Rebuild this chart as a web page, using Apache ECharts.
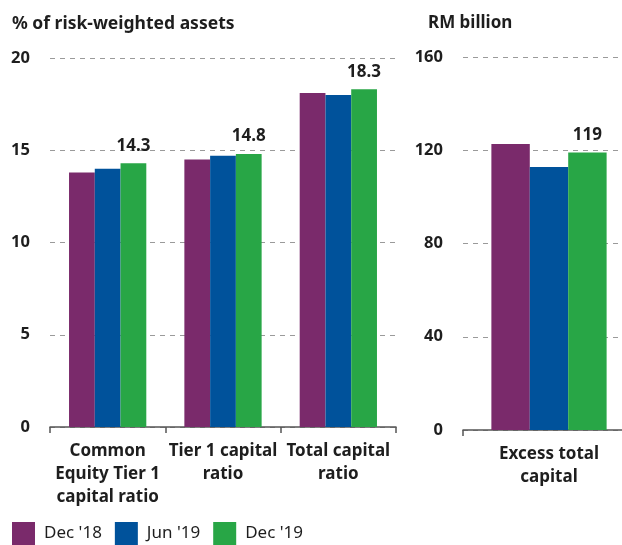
<!DOCTYPE html>
<html>
<head>
<meta charset="utf-8">
<title>Capital ratios</title>
<script src="https://cdn.jsdelivr.net/npm/echarts@6/dist/echarts.min.js"></script>
<style>
    html, body { margin: 0; padding: 0; background: #fff; }
    #capital_ratios { width: 622px; height: 545px; }
</style>
</head>
<body>
<div id="capital_ratios"></div>
<script>

// Chart data
// ------------------------------

var seriesNames = ["Dec '18", "Jun '19", "Dec '19"];
var seriesColors = ['#7a2a6b', '#00529b', '#28a646'];

// Left panel: % of risk-weighted assets
var ratioCategories = ['Common\nEquity Tier 1\ncapital ratio', 'Tier 1 capital\nratio', 'Total capital\nratio'];
var ratioDec18 = [13.8, 14.5, 18.1];
var ratioJun19 = [14.0, 14.7, 18.0];
var ratioDec19 = [14.3, 14.8, 18.3];
var ratioTicks = [0, 5, 10, 15, 20];

// Right panel: RM billion
var capitalCategories = ['Excess total\ncapital'];
var capitalDec18 = [122.7];
var capitalJun19 = [112.8];
var capitalDec19 = [119];
var capitalTicks = [0, 40, 80, 120, 160];


// Setup module
// ------------------------------

var CapitalRatiosChart = function() {

    var _capitalRatios = function() {
        if (typeof echarts == 'undefined') {
            console.warn('Warning - echarts.min.js is not loaded.');
            return;
        }

        var element = document.getElementById('capital_ratios');
        if (!element) return;

        var chart = echarts.init(element, null, { renderer: 'canvas' });

        var fontFamily = '"Noto Sans", "Open Sans", sans-serif';
        var textColor = '#1e1e1e';

        // Shared axis styles
        var categoryAxis = function(gridIndex, data) {
            return {
                type: 'category',
                gridIndex: gridIndex,
                data: data,
                axisLine: { lineStyle: { color: '#555', width: 1.5 } },
                axisTick: { show: true, length: 6, lineStyle: { color: '#555', width: 1.5 } },
                axisLabel: {
                    interval: 0,
                    margin: 13,
                    color: textColor,
                    fontFamily: fontFamily,
                    fontWeight: 'bold',
                    fontSize: 17,
                    lineHeight: 23
                }
            };
        };

        var valueAxis = function(gridIndex, ticks) {
            return {
                type: 'value',
                gridIndex: gridIndex,
                min: ticks[0],
                max: ticks[ticks.length - 1],
                interval: ticks[1] - ticks[0],
                axisLine: { show: false },
                axisTick: { show: false },
                axisLabel: {
                    margin: 20,
                    color: textColor,
                    fontFamily: fontFamily,
                    fontWeight: 'bold',
                    fontSize: 16.5
                },
                splitLine: {
                    show: true,
                    lineStyle: { color: '#9a9a9a', type: [5, 5], width: 1 }
                }
            };
        };

        // Bar series builder
        var barSeries = function(name, index, axisIndex, data, showLabel) {
            return {
                name: name,
                type: 'bar',
                xAxisIndex: axisIndex,
                yAxisIndex: axisIndex,
                barGap: 0,
                barCategoryGap: '33%',
                itemStyle: { color: seriesColors[index] },
                label: {
                    show: showLabel,
                    position: 'top',
                    distance: 9,
                    color: textColor,
                    fontFamily: fontFamily,
                    fontWeight: 'bold',
                    fontSize: 17
                },
                data: data
            };
        };

        chart.setOption({
            animation: false,
            textStyle: { fontFamily: fontFamily },

            title: [
                {
                    text: '% of risk-weighted assets',
                    left: 12,
                    top: 15,
                    padding: 0,
                    textStyle: { color: textColor, fontSize: 17.5, fontWeight: 'bold', fontFamily: fontFamily }
                },
                {
                    text: 'RM billion',
                    left: 428,
                    top: 15,
                    padding: 0,
                    textStyle: { color: textColor, fontSize: 17, fontWeight: 'bold', fontFamily: fontFamily }
                }
            ],

            legend: {
                data: seriesNames,
                left: 12,
                top: 522,
                padding: 0,
                icon: 'rect',
                itemWidth: 23,
                itemHeight: 23,
                itemGap: 13,
                textStyle: {
                    color: textColor,
                    fontFamily: fontFamily,
                    fontSize: 17,
                    padding: [0, 0, 0, 4]
                }
            },

            grid: [
                { left: 50, right: 226, top: 58, bottom: 118, outerBoundsMode: 'none' },
                { left: 463, width: 172, top: 57, bottom: 115, outerBoundsMode: 'none' }
            ],

            xAxis: [
                categoryAxis(0, ratioCategories),
                categoryAxis(1, capitalCategories)
            ],

            yAxis: [
                valueAxis(0, ratioTicks),
                valueAxis(1, capitalTicks)
            ],

            series: [
                barSeries(seriesNames[0], 0, 0, ratioDec18, false),
                barSeries(seriesNames[1], 1, 0, ratioJun19, false),
                barSeries(seriesNames[2], 2, 0, ratioDec19, true),
                barSeries(seriesNames[0], 0, 1, capitalDec18, false),
                barSeries(seriesNames[1], 1, 1, capitalJun19, false),
                barSeries(seriesNames[2], 2, 1, capitalDec19, true)
            ]
        });
    };

    return {
        init: function() {
            _capitalRatios();
        }
    };
}();


// Initialize module
// ------------------------------

document.addEventListener('DOMContentLoaded', function() {
    CapitalRatiosChart.init();
});
</script>
</body>
</html>
